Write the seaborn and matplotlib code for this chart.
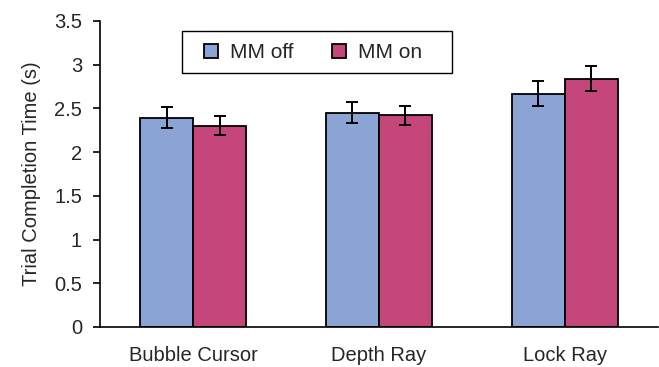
import matplotlib
matplotlib.use("Agg")
import matplotlib.pyplot as plt
from matplotlib.patches import Rectangle
import seaborn as sns
import pandas as pd
import numpy as np

# Mean trial completion times and error margins per technique
techniques = ["Bubble Cursor", "Depth Ray", "Lock Ray"]
conditions = ["MM off", "MM on"]
mm_off_means = [2.39, 2.45, 2.67]
mm_on_means = [2.30, 2.42, 2.84]
mm_off_err = [0.12, 0.12, 0.14]
mm_on_err = [0.11, 0.11, 0.14]
y_ticks = [0, 0.5, 1, 1.5, 2, 2.5, 3, 3.5]

colors = ["#8CA4D4", "#C4467A"]

sns.set_style("white")
plt.rcParams["font.family"] = ["Liberation Sans", "DejaVu Sans"]

df = pd.DataFrame({
    "Technique": techniques * 2,
    "Condition": [conditions[0]] * 3 + [conditions[1]] * 3,
    "Time": mm_off_means + mm_on_means,
})
errs = mm_off_err + mm_on_err

W, H = 659, 367
fig = plt.figure(figsize=(W / 100, H / 100), dpi=100)
ax = fig.add_axes([0.152, 0.109, 0.846, 0.834])

sns.barplot(data=df, x="Technique", y="Time", hue="Condition",
            palette=colors, order=techniques, hue_order=conditions,
            errorbar=None, width=0.57, edgecolor="black", linewidth=1.3,
            saturation=1, ax=ax)

# Error bars placed at the centre of each drawn bar
bars = [p for p in ax.patches if p.get_height() > 0][:6]
for bar, err in zip(bars, errs):
    cx = bar.get_x() + bar.get_width() / 2
    ax.errorbar(cx, bar.get_height(), yerr=err, fmt="none", ecolor="black",
                elinewidth=1.4, capsize=4.5, capthick=1.4, zorder=5)

ax.set_ylim(0, 3.5)
ax.set_xlim(-0.5, 2.5)
ax.set_yticks(y_ticks)
ax.set_yticklabels([f"{t:g}" for t in y_ticks], fontsize=14.5)
ax.set_xticks(range(3))
ax.set_xticklabels(techniques, fontsize=14.5)
ax.tick_params(axis="x", which="major", length=0, pad=14)
ax.set_xticks([0.5, 1.5], minor=True)
ax.tick_params(axis="x", which="minor", length=5, width=1.2, direction="out", color="black")
ax.tick_params(axis="y", length=5, width=1.2, direction="out", color="black",
               left=True, pad=8)
ax.set_xlabel("")
ax.set_ylabel("Trial Completion Time (s)", fontsize=14.5)
ax.yaxis.set_label_coords(-0.107, 0.5)

for side in ["top", "right"]:
    ax.spines[side].set_visible(False)
for side in ["left", "bottom"]:
    ax.spines[side].set_color("black")
    ax.spines[side].set_linewidth(1.2)

# Legend entries, with a wide rectangular frame drawn around them
leg = ax.legend(loc="center", bbox_to_anchor=(313 / W, 1 - 53 / H),
                bbox_transform=fig.transFigure, ncol=2, frameon=False,
                fontsize=15, handlelength=0.67, handleheight=0.67,
                columnspacing=1.87, handletextpad=0.58, borderpad=0,
                borderaxespad=0)
leg.set_zorder(7)
ax.add_patch(Rectangle((182 / W, 1 - 73 / H), 270 / W, 42 / H,
                       transform=fig.transFigure, fill=True,
                       facecolor="white", edgecolor="black",
                       linewidth=1.0, zorder=6, clip_on=False))

fig.savefig("out.png", dpi=100)
